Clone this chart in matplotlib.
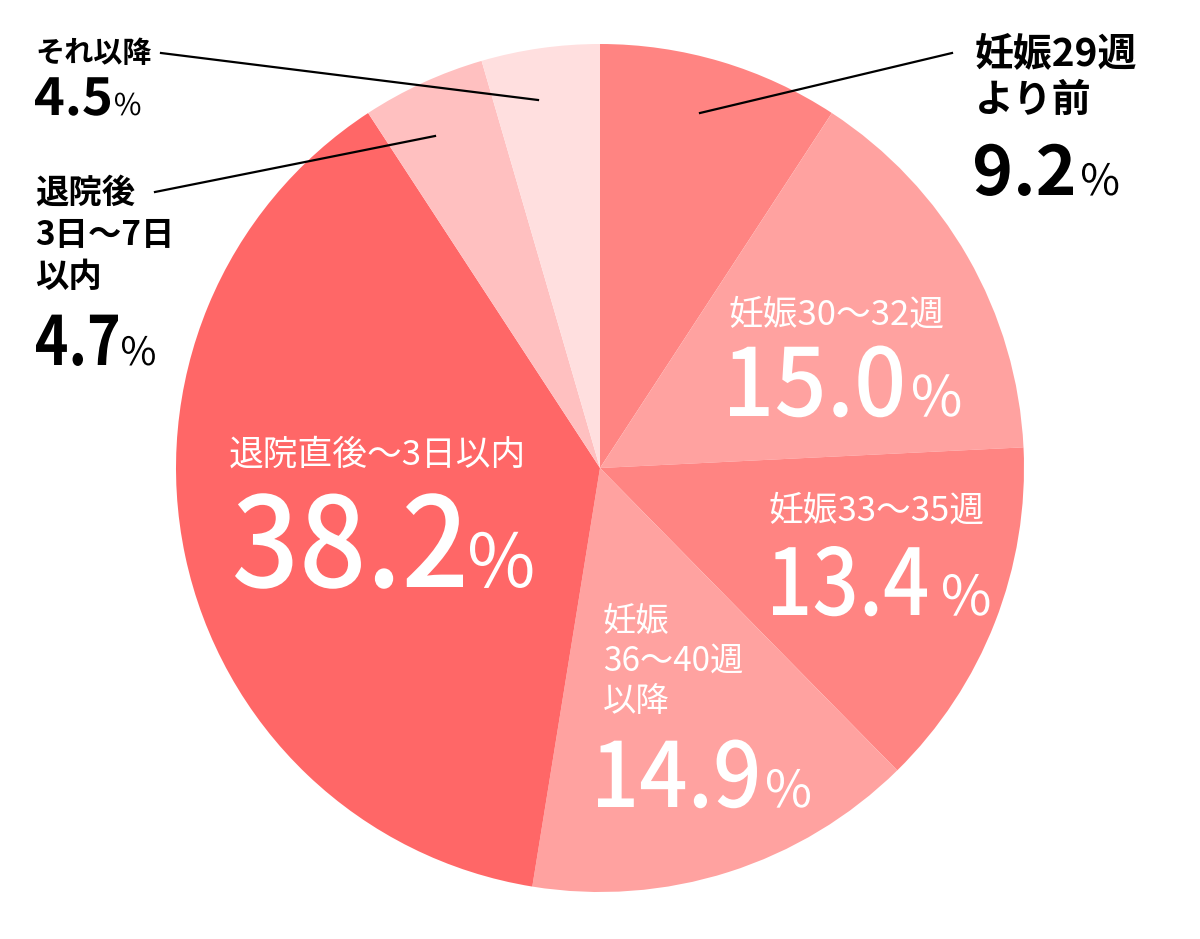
import matplotlib
matplotlib.use("Agg")
import matplotlib.pyplot as plt
from matplotlib.font_manager import FontProperties
from matplotlib.textpath import TextPath
from matplotlib.patches import PathPatch
from matplotlib.transforms import Affine2D

# --- data (clockwise from 12 o'clock) ---
labels = ["妊娠29週\nより前", "妊娠30～32週", "妊娠33～35週", "妊娠\n36～40週\n以降",
          "退院直後～3日以内", "退院後\n3日～7日\n以内", "それ以降"]
shares = [9.2, 15.0, 13.4, 14.9, 38.2, 4.7, 4.5]

colors = ["#FF8482", "#FFA2A0", "#FF8482", "#FFA2A0", "#FF6767", "#FFC0C0", "#FFDFDF"]

FONT = "Noto Sans CJK JP"
plt.rcParams["font.family"] = [FONT, "DejaVu Sans"]

W, H = 1200, 939
fig = plt.figure(figsize=(W / 100, H / 100), dpi=100)
ax = fig.add_axes([0, 0, 1, 1])


def Y(py):
    # pixel row (from top) -> data y
    return H - py


ax.pie(shares, colors=colors, startangle=90, counterclock=False,
       center=(600, Y(468)), radius=424, wedgeprops=dict(linewidth=0))
ax.set_xlim(0, W)
ax.set_ylim(0, H)
ax.axis("off")


def glyphs(s, x, base, em, color, weight, x_right=None):
    # text drawn as a path in pixel units: x = left edge of ink, base = baseline row,
    # x_right (optional) = right edge of ink, squeezing the glyphs to fit
    tp = TextPath((0, 0), s, size=em, prop=FontProperties(family=FONT, weight=weight))
    ext = tp.get_extents()
    sx = 1.0 if x_right is None else (x_right - x) / ext.width
    tr = Affine2D().scale(sx, 1).translate(x - ext.x0 * sx, Y(base))
    ax.add_patch(PathPatch(tr.transform_path(tp), fc=color, ec="none", lw=0))


def pct_label(i, x, x_right, base, em, pct_x, pct_em, color, weight):
    glyphs(f"{shares[i]:.1f}", x, base, em, color, weight, x_right)
    glyphs("%", pct_x, base, pct_em, color, "normal")


# outside labels (black)
l0 = labels[0].split("\n")
ax.text(975, Y(54), l0[0], fontsize=28, weight="bold", va="center", ha="left")
ax.text(975, Y(100), l0[1], fontsize=28, weight="bold", va="center", ha="left")
pct_label(0, 975, 1073, 195, 68, 1082, 43, "black", "bold")
ax.plot([700, 952], [Y(113), Y(53)], color="black", lw=1.6)

ax.text(35, Y(53), labels[6], fontsize=21, weight="bold", va="center", ha="left")
pct_label(6, 35, 110, 115, 51, 115, 30, "black", "bold")
ax.plot([161, 538], [Y(53), Y(100)], color="black", lw=1.6)

for k, ln in enumerate(labels[5].split("\n")):
    ax.text(35, Y(193 + 42 * k), ln, fontsize=24, weight="bold", va="center", ha="left")
pct_label(5, 36, 118, 365, 68, 122, 39, "black", "bold")
ax.plot([155, 435], [Y(192), Y(136)], color="black", lw=1.6)

# inside labels (white)
ax.text(836, Y(315), labels[1], fontsize=25, color="white", va="center", ha="center")
pct_label(1, 730, 902, 416, 94, 913, 56, "white", "medium")

ax.text(876, Y(511), labels[2], fontsize=25, color="white", va="center", ha="center")
pct_label(2, 773, 927, 615, 92, 943, 55, "white", "medium")

for k, ln in enumerate(labels[3].split("\n")):
    ax.text(603, Y(621 + 40 * k), ln, fontsize=24, color="white", va="center", ha="left")
pct_label(3, 598, 757, 807, 90, 767, 51, "white", "medium")

ax.text(377, Y(455), labels[4], fontsize=25, color="white", va="center", ha="center")
pct_label(4, 235, 463, 587, 125, 470, 74, "white", "medium")

fig.savefig("out.png", dpi=100)
